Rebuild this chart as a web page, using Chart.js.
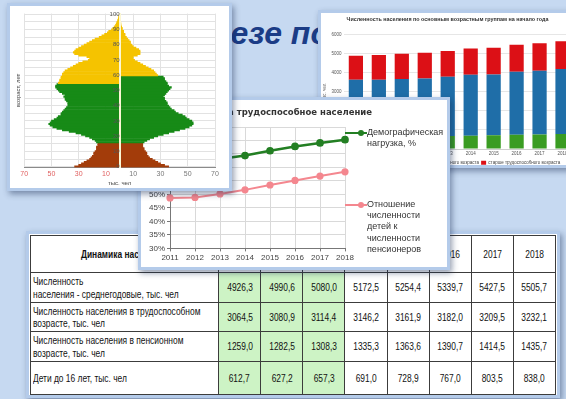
<!DOCTYPE html>
<html lang="ru">
<head>
<meta charset="UTF-8">
<title>Демографическая нагрузка</title>
<script src="https://cdn.jsdelivr.net/npm/chart.js@4.4.0/dist/chart.umd.min.js"></script>
<style>
  html, body { margin: 0; padding: 0; }
  body {
    width: 566px; height: 399px; overflow: hidden; position: relative;
    background: #c6d9f1;
    font-family: "Liberation Sans", Arial, sans-serif;
  }
  .slide-title {
    position: absolute; left: 129px; top: 15px; white-space: nowrap;
    font: italic bold 32px "Liberation Sans", Arial, sans-serif; color: #1b3c86;
  }
  .panel {
    position: absolute; background: #fff;
    border: 3px solid #b4cbea;
    box-shadow: 2px 3px 6px rgba(20, 40, 80, .45);
  }
  .panel canvas { display: block; }
  #pyramidBox { left: 7px; top: 3px; width: 219px; height: 182px; z-index: 4; }
  #groupsBox  { left: 318px; top: 10px; width: 265px; height: 152px; z-index: 1; }
  #loadBox    { left: 138px; top: 97px; width: 306px; height: 167px; z-index: 3; }
  #tableBox   { left: 26px; top: 231px; width: 528px; height: 161px; z-index: 2; }

  #loadTitle {
    position: absolute; right: 75px; top: 7px; white-space: nowrap;
    font: bold 8.5px "DejaVu Sans", "Liberation Sans", sans-serif; color: #333;
  }
  .leg { position: absolute; left: 204px; display: flex; align-items: flex-start; }
  .leg .mark { position: relative; width: 22px; height: 2px; margin-top: 5px; }
  .leg .mark i { position: absolute; right: 3px; top: -2px; width: 6px; height: 6px; border-radius: 50%; }
  .leg .txt { font: 9px/11.2px "Liberation Sans", Arial, sans-serif; color: #333; }

  table { border-collapse: collapse; table-layout: fixed; width: 526px; height: 159px; margin: 1px; }
  td {
    border: 1px solid #3c3c3c; padding: 0 2px; color: #111;
    font: 10.5px/12.5px "Liberation Sans", Arial, sans-serif;
    text-align: center; vertical-align: middle; overflow: visible; white-space: nowrap;
  }
  td span { display: inline-block; transform: scaleX(.8); transform-origin: center; }
  td.name { text-align: left; }
  td.name span { transform-origin: left center; }
  td.head { font-weight: bold; }
  td.hl { background: #cdf3c5; }
</style>
</head>
<body>

<div class="slide-title">в разрезе по годам</div>

<!-- численность по группам возраста -->
<div class="panel" id="groupsBox"><canvas id="groups" width="265" height="152"></canvas></div>

<!-- таблица -->
<div class="panel" id="tableBox"><table id="dyn"></table></div>

<!-- нагрузка на трудоспособное население -->
<div class="panel" id="loadBox">
  <canvas id="load" width="306" height="167"></canvas>
  <div id="loadTitle">Нагрузка на трудоспособное население</div>
  <div id="loadLegend"></div>
</div>

<!-- половозрастная пирамида -->
<div class="panel" id="pyramidBox"><canvas id="pyramid" width="219" height="182"></canvas></div>

<script>
// ---------- данные ----------

// пирамида: возраст 0..100, тыс. чел
const ages = Array.from({ length: 101 }, (_, i) => i);
const women = [
  33, 30, 28, 26, 24, 22, 21, 20, 19, 19,
  18, 17, 17, 17, 16, 16, 17, 18, 20, 22,
  25, 28, 32, 37, 42, 46, 49, 51, 52, 51,
  50, 48, 46, 45, 43, 43, 42, 41, 40, 39,
  38, 38, 38, 39, 40, 40, 41, 40, 42, 44,
  45, 46, 47, 47, 46, 45, 44, 44, 43, 43,
  42, 42, 41, 40, 38, 36, 34, 32, 30, 27,
  23, 22, 24, 30, 33, 34, 33, 32, 30, 28,
  26, 24, 22, 20, 18, 15, 13, 11, 9, 8,
  6, 5, 4, 3, 2.5, 2, 1.5, 1, 0.8, 0.5,
  0.3
];
const men = [
  36, 33, 30, 28, 26, 24, 22, 21, 20, 20,
  19, 18, 18, 17, 17, 17, 18, 20, 22, 25,
  28, 32, 36, 40, 44, 48, 51, 53, 54, 54,
  53, 51, 49, 48, 46, 43, 41, 40, 38, 37,
  36, 35, 35, 34, 33, 33, 32, 33, 34, 35,
  36, 37, 38, 36, 35, 35, 34, 33, 33, 32,
  28, 27, 26, 25, 23, 21, 19, 17, 15, 13,
  11, 10, 10, 13, 15, 15, 15, 14, 12, 10,
  9, 8, 8, 7, 6, 5, 4, 4, 3, 3,
  2, 2, 1.5, 1, 1, 0.8, 0.6, 0.5, 0.3, 0.2,
  0.1
];
const childAge = 16;      // моложе трудоспособного
const womenRetire = 55;   // пенсионный возраст
const menRetire = 60;

// нагрузка на трудоспособное население, %
const loadYears = ['2011', '2012', '2013', '2014', '2015', '2016', '2017', '2018'];
const loadTotal  = [61.1, 62.0, 63.1, 64.4, 66.2, 67.8, 69.1, 70.3];
const childRatio = [48.7, 48.9, 50.2, 51.7, 53.5, 55.2, 56.8, 58.4];
const loadLabels = [
  ['Демографическая', 'нагрузка, %'],
  ['Отношение', 'численности', 'детей к', 'численности', 'пенсионеров']
];

// численность по основным возрастным группам на начало года, тыс. чел
const groupYears = ['2009', '2010', '2011', '2012', '2013', '2014', '2015', '2016', '2017', '2018'];
const youngGroup = [630, 640, 650, 660, 680, 700, 720, 750, 770, 790];
const workGroup  = [3000, 2990, 3020, 3040, 3110, 3190, 3180, 3300, 3330, 3400];
const oldGroup   = [1260, 1290, 1320, 1350, 1350, 1370, 1400, 1410, 1440, 1460];

// таблица "Динамика населения"
const tableYears = ['2011', '2012', '2013', '2014', '2015', '2016', '2017', '2018'];
const rowNames = [
  'Численность<br>населения - среднегодовые, тыс. чел',
  'Численность населения в трудоспособном<br>возрасте, тыс. чел',
  'Численность населения в пенсионном<br>возрасте, тыс. чел',
  'Дети до 16 лет, тыс. чел'
];
const avgPopulation   = [4926.3, 4990.6, 5080.0, 5172.5, 5254.4, 5339.7, 5427.5, 5505.7];
const workingAge      = [3064.5, 3080.9, 3114.4, 3146.2, 3161.9, 3182.0, 3209.5, 3232.1];
const pensionAge      = [1259.0, 1282.5, 1308.3, 1335.3, 1363.6, 1390.7, 1414.5, 1435.7];
const childrenUnder16 = [612.7, 627.2, 657.3, 691.0, 728.9, 767.0, 803.5, 838.0];
const highlightCols = 3;  // первые три года выделены

Chart.defaults.font.family = '"Liberation Sans", Arial, sans-serif';
Chart.defaults.animation = false;
Chart.defaults.plugins.tooltip.enabled = false;

// ---------- пирамида ----------
function ageColour(age, retire) {
  if (age < childAge) return '#a33c0a';
  if (age < retire) return '#178a17';
  return '#f5c300';
}

new Chart(document.getElementById('pyramid'), {
  type: 'bar',
  data: {
    labels: ages,
    datasets: [
      { label: 'женщины', data: women.map(v => -v), backgroundColor: c => ageColour(c.dataIndex, womenRetire) },
      { label: 'мужчины', data: men, backgroundColor: c => ageColour(c.dataIndex, menRetire) }
    ]
  },
  options: {
    indexAxis: 'y',
    responsive: false,
    datasets: { bar: { barPercentage: 1, categoryPercentage: 1, borderWidth: 0 } },
    layout: { padding: { left: 3, right: 14, top: 6, bottom: 1 } },
    plugins: { legend: { display: false } },
    scales: {
      x: {
        stacked: true, min: -70, max: 70,
        ticks: {
          stepSize: 20, padding: 2,
          callback: v => Math.abs(v),
          color: c => c.tick && c.tick.value < 0 ? '#e06060' : '#777',
          font: { size: 7 }
        },
        grid: { color: '#e2e2e2', drawTicks: false },
        border: { color: '#8a8a8a' },
        title: { display: true, text: 'тыс. чел', font: { size: 6 }, color: '#444', padding: 0 }
      },
      y: {
        stacked: true, reverse: true,
        position: { x: 0 },
        ticks: {
          autoSkip: false, padding: 4, z: 1,
          callback: (v, i) => (ages[i] % 10 === 0 ? ages[i] : ''),
          color: '#555', font: { size: 6 }
        },
        grid: { offset: false, drawTicks: false, color: c => (c.index % 5 === 0 ? '#e2e2e2' : 'rgba(0,0,0,0)') },
        border: { color: '#fbf7d4', width: 2, z: 1 }
      },
      yTitle: {
        type: 'linear', position: 'left',
        ticks: { display: false }, grid: { display: false, drawTicks: false }, border: { display: false },
        title: { display: true, text: 'возраст, лет', font: { size: 6 }, color: '#444', padding: 2 }
      }
    }
  }
});

// ---------- нагрузка ----------
const loadChart = new Chart(document.getElementById('load'), {
  type: 'line',
  data: {
    labels: loadYears,
    datasets: [
      { label: loadLabels[0].join(' '), data: loadTotal, borderColor: '#237f23', backgroundColor: '#237f23', borderWidth: 2.5, pointRadius: 2.6 },
      { label: loadLabels[1].join(' '), data: childRatio, borderColor: '#f4878f', backgroundColor: '#f4878f', borderWidth: 2, pointRadius: 2.6 }
    ]
  },
  options: {
    responsive: false,
    layout: { padding: { left: 6, top: 27, right: 102, bottom: 2 } },
    plugins: { legend: { display: false } },
    scales: {
      x: {
        offset: false,
        grid: { color: '#d9d9d9', tickLength: 3, tickColor: '#777' },
        border: { color: '#777' },
        ticks: { font: { size: 8 }, color: '#444', padding: 2 }
      },
      y: {
        min: 30, max: 75,
        ticks: { stepSize: 5, callback: v => v + '%', font: { size: 8 }, color: '#444', padding: 2 },
        grid: { color: '#d9d9d9', tickLength: 3, tickColor: '#777' },
        border: { color: '#777' }
      }
    }
  }
});

// легенда справа, строится из наборов данных
const legendTops = [27, 99];
loadChart.data.datasets.forEach((ds, k) => {
  const item = document.createElement('div');
  item.className = 'leg';
  item.style.top = legendTops[k] + 'px';
  item.innerHTML = '<div class="mark" style="background:' + ds.borderColor + '"><i style="background:' + ds.borderColor + '"></i></div>' +
    '<div class="txt">' + loadLabels[k].join('<br>') + '</div>';
  document.getElementById('loadLegend').appendChild(item);
});

// ---------- возрастные группы ----------
new Chart(document.getElementById('groups'), {
  type: 'bar',
  data: {
    labels: groupYears,
    datasets: [
      { label: 'моложе трудоспособного возраста', data: youngGroup, backgroundColor: '#3a9c22' },
      { label: 'трудоспособного возраста', data: workGroup, backgroundColor: '#1f6ea8' },
      { label: 'старше трудоспособного возраста', data: oldGroup, backgroundColor: '#dc1016' }
    ]
  },
  options: {
    responsive: false,
    datasets: { bar: { barPercentage: 0.62, categoryPercentage: 1 } },
    layout: { padding: { left: 0, right: 12, top: 0, bottom: -10 } },
    plugins: {
      title: {
        display: true, text: 'Численность населения по основным возрастным группам на начало года',
        font: { size: 5.4 }, color: '#333', padding: { top: 3, bottom: 12 }
      },
      legend: {
        position: 'bottom',
        labels: { boxWidth: 5, boxHeight: 4, font: { size: 4.5 }, padding: 2, color: '#444' }
      }
    },
    scales: {
      x: {
        stacked: true,
        grid: { display: false, drawTicks: false },
        ticks: { font: { size: 4.5 }, color: '#555', padding: 2 }
      },
      y: {
        stacked: true, min: 0, max: 6000,
        ticks: { stepSize: 1000, callback: v => v, font: { size: 4.5 }, color: '#555', padding: 3 },
        grid: { color: '#e6e6e6', drawTicks: false }, border: { display: false },
        title: { display: true, text: 'тыс. чел.', font: { size: 4.5 }, color: '#555', padding: 1 }
      }
    }
  }
});

// ---------- таблица ----------
const fmt = v => v.toFixed(1).replace('.', ',');
const tableRows = [avgPopulation, workingAge, pensionAge, childrenUnder16];
const rowHeights = [37, 30, 29, 30, 33];
const cell = (text, cls) => '<td' + (cls ? ' class="' + cls + '"' : '') + '><span>' + text + '</span></td>';
let html = '<colgroup><col style="width:188px">' + tableYears.map(() => '<col>').join('') + '</colgroup>';
html += '<tr style="height:' + rowHeights[0] + 'px">' + cell('Динамика населения', 'head') +
  tableYears.map(y => cell(y)).join('') + '</tr>';
tableRows.forEach((row, r) => {
  html += '<tr style="height:' + rowHeights[r + 1] + 'px">' + cell(rowNames[r], 'name') +
    row.map((v, i) => cell(fmt(v), i < highlightCols ? 'hl' : '')).join('') + '</tr>';
});
document.getElementById('dyn').innerHTML = html;
</script>
</body>
</html>
